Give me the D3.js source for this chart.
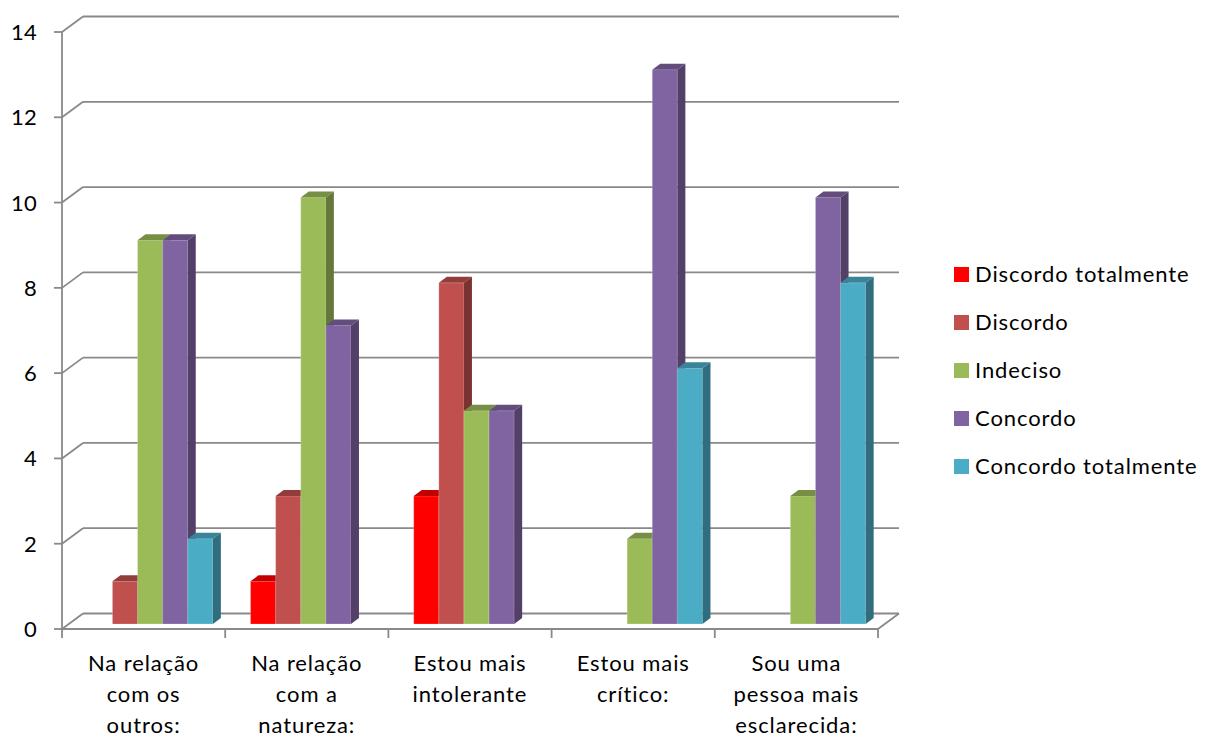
<!DOCTYPE html>
<html>
<head>
<meta charset="utf-8">
<script src="https://cdn.jsdelivr.net/npm/d3@7"></script>
<style>
  html, body { margin: 0; padding: 0; background: #ffffff; }
  svg text { font-family: Lato, "Open Sans", sans-serif; fill: #000; }
</style>
</head>
<body>
<svg id="chart" width="1209" height="738"></svg>
<script>
// Categories (one label line per array entry)
const categories = [
  ["Na relação", "com os", "outros:"],
  ["Na relação", "com a", "natureza:"],
  ["Estou mais", "intolerante"],
  ["Estou mais", "crítico:"],
  ["Sou uma", "pessoa mais", "esclarecida:"]
];
const seriesNames = ["Discordo totalmente", "Discordo", "Indeciso", "Concordo", "Concordo totalmente"];
const seriesColors = ["#FF0000", "#C0504D", "#9BBB59", "#8064A2", "#4BACC6"];

// Values per series, one entry per category
const discordoTotalmente = [0, 1, 3, 0, 0];
const discordo           = [1, 3, 8, 0, 0];
const indeciso           = [9, 10, 5, 2, 3];
const concordo           = [9, 7, 5, 13, 10];
const concordoTotalmente = [2, 0, 0, 6, 8];
const seriesValues = [discordoTotalmente, discordo, indeciso, concordo, concordoTotalmente];

const yTicks = [0, 2, 4, 6, 8, 10, 12, 14];

const svg = d3.select("#chart");
const fontSize = 22;
const letterSpacing = 0.9;

// Oblique 3D layout: front plane plus a receding depth offset
const catIds = d3.range(categories.length);
const x = d3.scaleBand().domain(catIds).range([62, 878]);
const y = d3.scaleLinear().domain([0, 14]).range([629, 32]);
const depth = { dx: 21, dy: -15.5 };          // full floor depth
const barPlane = { dx: 6.5, dy: -5 };          // bar front faces
const barDepth = { dx: 8, dy: -6 };            // bar thickness

const gap = x.step() * 1.5 / 6.5 / 2;
const xs = d3.scaleBand().domain(d3.range(seriesNames.length))
  .range([gap, x.step() - gap]).padding(0);

const lineColor = "#898989";
const lw = 1.8;

const grid = svg.append("g");
// Back wall gridlines and side wall diagonals
yTicks.forEach(t => {
  const yf = y(t);
  grid.append("line")
    .attr("x1", x.range()[0] + depth.dx).attr("y1", yf + depth.dy)
    .attr("x2", x.range()[1] + depth.dx).attr("y2", yf + depth.dy)
    .attr("stroke", lineColor).attr("stroke-width", lw);
  grid.append("line")
    .attr("x1", x.range()[0]).attr("y1", yf)
    .attr("x2", x.range()[0] + depth.dx).attr("y2", yf + depth.dy)
    .attr("stroke", lineColor).attr("stroke-width", lw);
  // tick mark on the value axis
  grid.append("line")
    .attr("x1", x.range()[0] - 8).attr("y1", yf)
    .attr("x2", x.range()[0]).attr("y2", yf)
    .attr("stroke", lineColor).attr("stroke-width", lw);
  grid.append("text")
    .attr("x", 37).attr("y", yf + 8)
    .attr("text-anchor", "end")
    .attr("font-size", fontSize)
    .attr("letter-spacing", 0.3)
    .text(t);
});

// Floor outline
grid.append("line")
  .attr("x1", x.range()[0]).attr("y1", y(0))
  .attr("x2", x.range()[1]).attr("y2", y(0))
  .attr("stroke", lineColor).attr("stroke-width", lw);
grid.append("line")
  .attr("x1", x.range()[1]).attr("y1", y(0))
  .attr("x2", x.range()[1] + depth.dx).attr("y2", y(0) + depth.dy)
  .attr("stroke", lineColor).attr("stroke-width", lw);
// Value axis line
grid.append("line")
  .attr("x1", x.range()[0]).attr("y1", y(14))
  .attr("x2", x.range()[0]).attr("y2", y(0))
  .attr("stroke", lineColor).attr("stroke-width", lw);
// Category boundary ticks
d3.range(categories.length + 1).forEach(i => {
  const xv = x.range()[0] + i * x.step();
  grid.append("line")
    .attr("x1", xv).attr("y1", y(0))
    .attr("x2", xv).attr("y2", y(0) + 9)
    .attr("stroke", lineColor).attr("stroke-width", lw);
});

// Bars, drawn left to right so each bar covers its neighbour's side face
const bars = svg.append("g");
catIds.forEach(ci => {
  seriesValues.forEach((vals, si) => {
    const v = vals[ci];
    if (!v) return;
    const x0 = x(ci) + xs(si) + barPlane.dx;
    const x1 = x0 + xs.bandwidth();
    const yb = y(0) + barPlane.dy;
    const yt = y(v) + barPlane.dy;
    const base = d3.color(seriesColors[si]);
    const g = bars.append("g");
    const pts = a => a.map(p => p.join(",")).join(" ");
    g.append("polygon")
      .attr("points", pts([[x0, yt], [x1, yt], [x1, yb], [x0, yb]]))
      .attr("fill", base.formatHex())
      .attr("stroke", "rgba(255,255,255,0.35)").attr("stroke-width", 0.6);
    g.append("polygon")
      .attr("points", pts([[x0, yt], [x0 + barDepth.dx, yt + barDepth.dy],
        [x1 + barDepth.dx, yt + barDepth.dy], [x1, yt]]))
      .attr("fill", base.darker(0.75).formatHex());
    g.append("polygon")
      .attr("points", pts([[x1, yt], [x1 + barDepth.dx, yt + barDepth.dy],
        [x1 + barDepth.dx, yb + barDepth.dy], [x1, yb]]))
      .attr("fill", base.darker(1.25).formatHex());
  });
});

// Category labels
const labels = svg.append("g");
catIds.forEach(ci => {
  const cx = x(ci) + x.bandwidth() / 2;
  const t = labels.append("text")
    .attr("x", cx)
    .attr("text-anchor", "middle")
    .attr("font-size", fontSize)
    .attr("letter-spacing", letterSpacing);
  categories[ci].forEach((line, li) => {
    t.append("tspan")
      .attr("x", cx)
      .attr("y", 671 + li * 31)
      .text(line);
  });
});

// Legend
const legend = svg.append("g");
seriesNames.forEach((name, si) => {
  const by = 282 + si * 48;
  legend.append("rect")
    .attr("x", 954).attr("y", by - 15)
    .attr("width", 15).attr("height", 15)
    .attr("fill", seriesColors[si]);
  legend.append("text")
    .attr("x", 975).attr("y", by)
    .attr("font-size", fontSize)
    .attr("letter-spacing", letterSpacing)
    .text(name);
});
</script>
</body>
</html>
